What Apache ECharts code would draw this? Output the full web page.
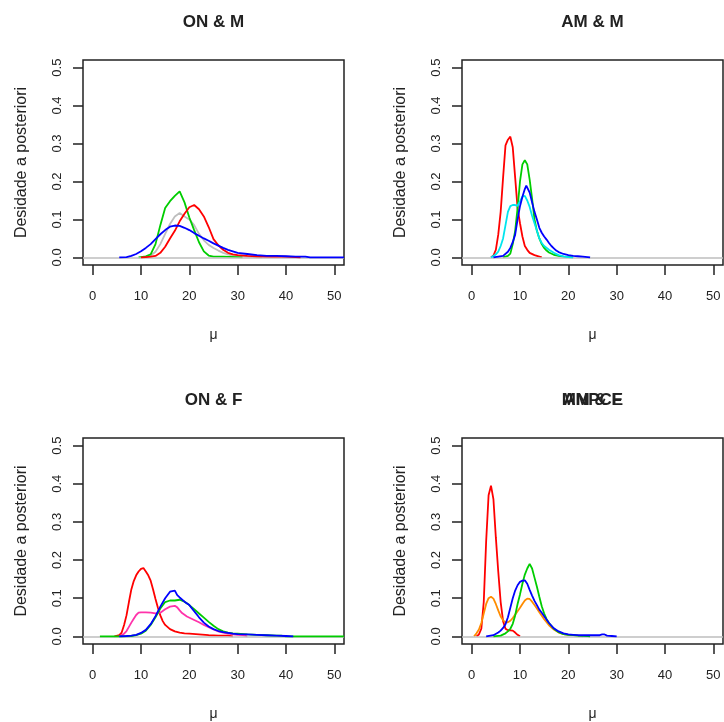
<!DOCTYPE html>
<html>
<head>
<meta charset="utf-8">
<script src="https://cdn.jsdelivr.net/npm/echarts@6/dist/echarts.min.js"></script>
<style>
  html, body { margin: 0; padding: 0; background: #fff; }
  #chart { width: 724px; height: 722px; }
</style>
</head>
<body>
<div id="chart"></div>
<script>
// Panel titles and axis texts
const panelTitles = ['ON & M', 'AM & M', 'ON & F', 'AM & F'];
const overlayTitle = 'MNPCE';
const xAxisName = 'μ';
const yAxisName = 'Desidade a posteriori';
const muTicks = [0, 10, 20, 30, 40, 50];
const densTicks = [0, 0.1, 0.2, 0.3, 0.4, 0.5];

// Posterior densities of mu: [mu, density]
// ON & M
const onM_red = [[10,0],[11,0.001],[12,0.002],[13,0.004],[14,0.012],[15,0.028],[16,0.05],[17,0.07],[18,0.095],[19,0.115],[20,0.132],[21,0.138],[22,0.127],[23,0.108],[24,0.08],[25,0.048],[26,0.032],[27,0.02],[28,0.012],[29,0.008],[30,0.006],[32,0.004],[34,0.003],[37,0.002],[40,0.002],[43,0]];
const onM_green = [[9.5,0],[10,0.001],[11,0.003],[12,0.008],[13,0.035],[14,0.085],[15,0.13],[16,0.148],[17,0.162],[18,0.174],[19,0.145],[20,0.105],[21,0.072],[22,0.04],[23,0.016],[24,0.005],[25,0.002],[27,0.002],[30,0.001],[31,0]];
const onM_grey = [[11,0],[12,0.005],[13,0.015],[14,0.035],[15,0.062],[16,0.088],[17,0.108],[18,0.117],[19,0.108],[20,0.1],[21,0.085],[22,0.062],[23,0.045],[24,0.033],[25,0.025],[26,0.018],[27,0.012],[28,0.008],[29,0.005],[31,0.003],[33,0.001],[35,0]];
const onM_blue = [[5.5,0],[7,0.001],[8,0.004],[9,0.009],[10,0.016],[11,0.025],[12,0.035],[13,0.048],[14,0.061],[15,0.072],[16,0.081],[17,0.084],[18,0.083],[19,0.078],[20,0.072],[21,0.064],[22,0.057],[23,0.05],[24,0.044],[25,0.037],[26,0.031],[27,0.025],[28,0.02],[29,0.016],[30,0.012],[32,0.009],[34,0.006],[36,0.004],[38,0.004],[40,0.003],[42,0.002],[44,0.002],[45,0],[52,0]];

// AM & M
const amM_red = [[4,0],[4.5,0.005],[5,0.02],[5.5,0.06],[6,0.12],[6.5,0.21],[7,0.295],[7.5,0.31],[8,0.318],[8.5,0.29],[9,0.21],[9.5,0.13],[10,0.09],[10.5,0.055],[11,0.03],[11.5,0.02],[12,0.012],[13,0.006],[14,0.002],[14.5,0]];
const amM_green = [[6.5,0],[7.5,0.004],[8,0.01],[8.5,0.035],[9,0.07],[9.5,0.13],[10,0.2],[10.5,0.245],[11,0.256],[11.5,0.245],[12,0.205],[12.5,0.155],[13,0.1],[13.5,0.07],[14,0.05],[14.5,0.035],[15,0.025],[15.5,0.018],[16,0.013],[17,0.007],[18,0.004],[19,0.002],[20,0.001],[21,0]];
const amM_blue = [[4.5,0],[5.5,0.002],[6.5,0.004],[7.5,0.015],[8,0.025],[8.5,0.04],[9,0.06],[9.5,0.1],[10,0.135],[10.5,0.16],[11,0.18],[11.3,0.189],[12,0.171],[12.5,0.145],[13,0.12],[13.5,0.1],[14,0.078],[14.5,0.065],[15,0.055],[15.5,0.047],[16,0.038],[16.5,0.03],[17,0.024],[17.5,0.018],[18,0.014],[19,0.009],[20,0.006],[21,0.004],[22,0.003],[23,0.002],[24,0.001],[24.5,0]];
const amM_cyan = [[4,0],[5,0.008],[5.5,0.015],[6,0.03],[6.5,0.05],[7,0.085],[7.5,0.12],[8,0.135],[8.5,0.138],[9,0.138],[9.5,0.136],[10,0.148],[10.5,0.16],[11,0.162],[11.5,0.15],[12,0.133],[12.5,0.11],[13,0.09],[13.5,0.07],[14,0.05],[14.5,0.038],[15,0.03],[16,0.02],[17,0.012],[18,0.006],[19,0.003],[20,0.001],[21,0]];

// ON & F
const onF_red = [[4.5,0],[5.5,0.003],[6,0.01],[6.5,0.03],[7,0.055],[7.5,0.09],[8,0.123],[8.5,0.145],[9,0.16],[9.5,0.17],[10,0.177],[10.5,0.179],[11,0.17],[11.5,0.16],[12,0.146],[12.5,0.123],[13,0.098],[13.5,0.075],[14,0.055],[14.5,0.04],[15,0.03],[16,0.019],[17,0.013],[18,0.01],[19,0.008],[20,0.007],[22,0.005],[24,0.003],[26,0.002],[28,0.002],[29,0]];
const onF_pink = [[5.5,0],[6.5,0.007],[7,0.014],[7.5,0.025],[8,0.036],[8.5,0.046],[9,0.056],[9.5,0.062],[10,0.063],[11,0.063],[12,0.062],[13,0.06],[14,0.062],[15,0.071],[16,0.078],[17,0.08],[17.5,0.076],[18,0.068],[18.5,0.061],[19.5,0.052],[21,0.043],[22,0.037],[23,0.03],[24,0.024],[25,0.018],[26,0.013],[27,0.01],[28,0.007],[29,0.005],[30,0.004],[31,0.003],[32,0]];
const onF_blue = [[5.5,0],[7,0.001],[8,0.002],[9,0.004],[10,0.009],[11,0.017],[12,0.032],[13,0.053],[14,0.078],[15,0.1],[16,0.117],[17,0.12],[17.5,0.108],[18,0.102],[19,0.091],[20,0.082],[21,0.066],[22,0.05],[23,0.036],[24,0.026],[25,0.019],[26,0.014],[27,0.011],[28,0.009],[29,0.007],[30,0.006],[32,0.005],[34,0.004],[36,0.003],[38,0.002],[40,0.001],[41.5,0]];
const onF_green = [[1.5,0],[6,0],[8,0.001],[9,0.003],[10,0.007],[11,0.015],[12,0.03],[13,0.05],[14,0.073],[15,0.09],[16,0.094],[17,0.094],[18,0.096],[19,0.091],[20,0.082],[21,0.071],[22,0.06],[23,0.049],[24,0.038],[25,0.028],[26,0.019],[27,0.013],[28,0.01],[29,0.008],[30,0.007],[32,0.005],[34,0.004],[36,0.003],[38,0.002],[39,0.002],[40,0],[52,0]];

// AM & F
const amF_red = [[1,0],[1.5,0.005],[2,0.02],[2.5,0.09],[3,0.25],[3.5,0.37],[4,0.395],[4.5,0.36],[5,0.26],[5.5,0.17],[6,0.09],[6.5,0.04],[7,0.02],[7.5,0.016],[8,0.016],[8.5,0.015],[9,0.01],[9.5,0.004],[10,0]];
const amF_orange = [[0.5,0],[1,0.008],[1.5,0.018],[2,0.035],[2.5,0.06],[3,0.085],[3.5,0.1],[4,0.104],[4.5,0.099],[5,0.085],[5.5,0.068],[6,0.052],[6.5,0.042],[7,0.037],[7.5,0.037],[8,0.041],[8.5,0.048],[9,0.057],[9.5,0.066],[10,0.075],[10.5,0.085],[11,0.094],[11.5,0.099],[12,0.098],[12.5,0.091],[13,0.082],[13.5,0.073],[14,0.063],[14.5,0.054],[15,0.045],[16,0.029],[17,0.018],[18,0.01],[19,0.006],[20,0.004],[21,0.003],[22,0.002],[23,0]];
const amF_green = [[4.5,0],[6,0.002],[7,0.008],[7.5,0.013],[8,0.02],[8.5,0.033],[9,0.055],[9.5,0.085],[10,0.11],[10.5,0.138],[11,0.162],[11.5,0.178],[12,0.19],[12.5,0.178],[13,0.154],[13.5,0.13],[14,0.104],[14.5,0.079],[15,0.06],[15.5,0.045],[16,0.035],[17,0.02],[18,0.011],[19,0.006],[20,0.004],[21,0.003],[22,0.002],[24,0.001],[24.5,0]];
const amF_blue = [[3,0],[4.5,0.003],[5.5,0.01],[6,0.015],[6.5,0.022],[7,0.032],[7.5,0.05],[8,0.075],[8.5,0.1],[9,0.12],[9.5,0.134],[10,0.143],[10.5,0.146],[11,0.147],[11.5,0.138],[12,0.122],[12.5,0.107],[13,0.093],[13.5,0.082],[14,0.07],[14.5,0.062],[15,0.053],[16,0.035],[17,0.021],[18,0.013],[19,0.008],[20,0.005],[21,0.004],[22,0.003],[25,0.003],[26.5,0.003],[27,0.005],[27.5,0.005],[28,0.002],[29,0.001],[30,0]];

const COLORS = {
  red: '#FF0000', green: '#00CD00', blue: '#0000FF', grey: '#BEBEBE',
  cyan: '#00E5EE', pink: '#FF33AA', orange: '#FF8C00'
};

// curves drawn per panel, in drawing order
const panels = [
  [['grey', onM_grey], ['green', onM_green], ['red', onM_red], ['blue', onM_blue]],
  [['red', amM_red], ['green', amM_green], ['cyan', amM_cyan], ['blue', amM_blue]],
  [['red', onF_red], ['pink', onF_pink], ['green', onF_green], ['blue', onF_blue]],
  [['red', amF_red], ['orange', amF_orange], ['green', amF_green], ['blue', amF_blue]]
];

const FONT = '"Liberation Sans", Arial, Helvetica, sans-serif';
const INK = '#222';

// plot regions (2 x 2 layout)
const boxes = [
  { left: 83, top: 60, width: 261, height: 205 },
  { left: 462, top: 60, width: 261, height: 205 },
  { left: 83, top: 438, width: 261, height: 206 },
  { left: 462, top: 438, width: 261, height: 206 }
];

const grids = boxes.map(b => ({
  left: b.left, top: b.top, width: b.width, height: b.height,
  show: true, borderColor: INK, borderWidth: 1.5, backgroundColor: 'transparent'
}));

const xAxes = boxes.map((b, i) => ({
  gridIndex: i, type: 'value', min: -2, max: 52,
  axisLine: { show: false, onZero: false },
  splitLine: { show: false },
  axisTick: { show: true, length: 10, customValues: muTicks, lineStyle: { color: INK, width: 1.5 } },
  axisLabel: { customValues: muTicks, margin: 25, fontSize: 13, color: INK, fontFamily: FONT },
  name: xAxisName, nameLocation: 'middle', nameGap: 63, nameMoveOverlap: false,
  nameTextStyle: { fontSize: 14, color: INK, fontFamily: FONT }
}));

const yAxes = boxes.map((b, i) => ({
  gridIndex: i, type: 'value', min: -0.02, max: 0.52,
  axisLine: { show: false, onZero: false },
  splitLine: { show: false },
  axisTick: { show: true, length: 10, customValues: densTicks, lineStyle: { color: INK, width: 1.5 } },
  axisLabel: {
    customValues: densTicks, rotate: 90, margin: 19, fontSize: 13, color: INK, fontFamily: FONT,
    formatter: v => v.toFixed(1)
  },
  name: yAxisName, nameLocation: 'middle', nameGap: 53, nameRotate: 90, nameMoveOverlap: false,
  nameTextStyle: { fontSize: 16, color: INK, fontFamily: FONT }
}));

const series = [];
panels.forEach((curves, p) => {
  curves.forEach(([col, data], k) => {
    const s = {
      type: 'line', xAxisIndex: p, yAxisIndex: p, data: data,
      showSymbol: false, symbol: 'none', silent: true, clip: true,
      lineStyle: { color: COLORS[col], width: 1.8 },
      z: 3 + k
    };
    if (k === 0) {
      // zero reference line across the plot region
      s.markLine = {
        silent: true, symbol: 'none', label: { show: false },
        lineStyle: { color: COLORS.grey, width: 1.5, type: 'solid' },
        data: [{ yAxis: 0 }]
      };
    }
    series.push(s);
  });
});

// panel headings
const graphics = [];
boxes.forEach((b, i) => {
  graphics.push({
    type: 'text', x: b.left + b.width / 2, y: b.top - 37.5,
    style: { text: panelTitles[i], align: 'center', verticalAlign: 'middle',
             font: 'bold 17px ' + FONT, fill: INK }
  });
});
graphics.push({
  type: 'text', x: boxes[3].left + boxes[3].width / 2, y: boxes[3].top - 37.5,
  style: { text: overlayTitle, align: 'center', verticalAlign: 'middle',
           font: 'bold 17px ' + FONT, fill: INK }
});

const chart = echarts.init(document.getElementById('chart'), null, { renderer: 'canvas' });
chart.setOption({
  animation: false,
  backgroundColor: '#fff',
  grid: grids,
  xAxis: xAxes,
  yAxis: yAxes,
  series: series,
  graphic: graphics
});
</script>
</body>
</html>
